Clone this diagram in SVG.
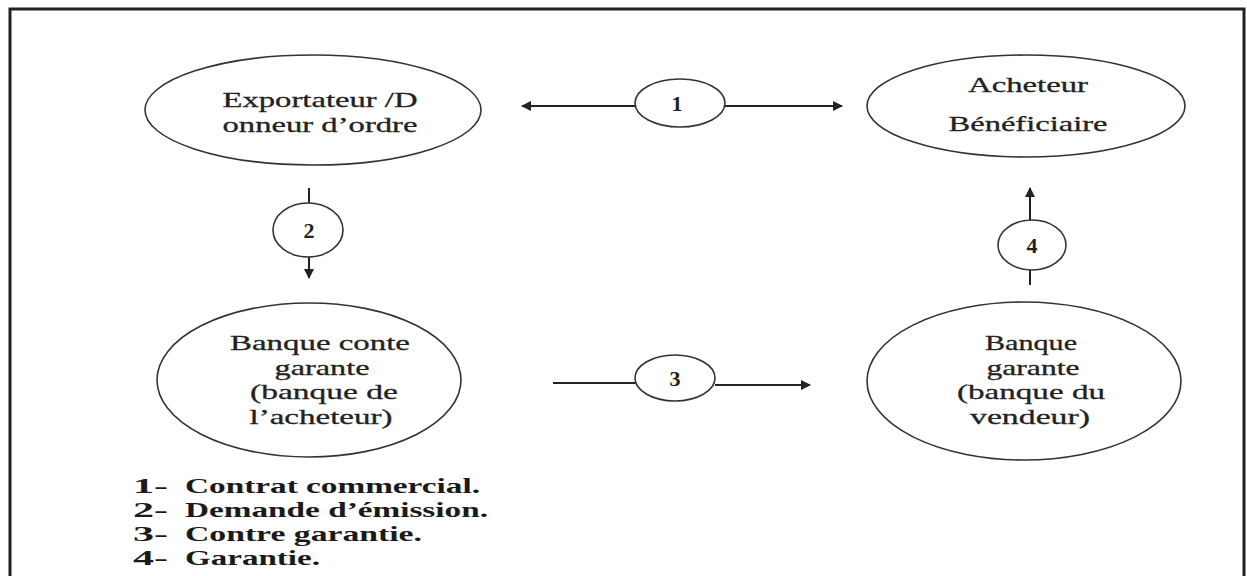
<svg xmlns="http://www.w3.org/2000/svg" width="1247" height="576" viewBox="0 0 1247 576">
<style>
.node{fill:#fff;stroke:#333;stroke-width:1.6}
.t{font-family:"Liberation Serif","Times New Roman",serif;font-size:22px;fill:#222;text-anchor:middle;stroke:#222;stroke-width:0.3}
.n{font-family:"Liberation Serif","Times New Roman",serif;font-size:22px;font-weight:bold;fill:#222;text-anchor:middle}
.lg{font-family:"Liberation Serif","Times New Roman",serif;font-size:21.5px;font-weight:bold;fill:#1a1a1a}
.c{stroke:#222;stroke-width:2;fill:none}
.frame{fill:none;stroke:#222;stroke-width:3}
</style>
<defs>
<marker id="ah" viewBox="0 0 10 10" refX="9" refY="5" markerWidth="5" markerHeight="5" orient="auto-start-reverse" markerUnits="strokeWidth">
<path d="M0,0 L10,5 L0,10 z" fill="#222"/>
</marker>
</defs>
<rect width="1247" height="576" fill="#fff"/>
<path class="frame" d="M10,590 L10,9 L1244,9 L1244,590"/>

<g id="exportateur">
<ellipse class="node" cx="313" cy="110" rx="168" ry="55"/>
<text class="t" x="320" y="107" textLength="195" lengthAdjust="spacingAndGlyphs">Exportateur /D</text>
<text class="t" x="320" y="132" textLength="195" lengthAdjust="spacingAndGlyphs">onneur d’ordre</text>
</g>

<g id="acheteur">
<ellipse class="node" cx="1026" cy="106" rx="159" ry="51"/>
<text class="t" x="1028" y="92" textLength="120" lengthAdjust="spacingAndGlyphs">Acheteur</text>
<text class="t" x="1028" y="131" textLength="159" lengthAdjust="spacingAndGlyphs">Bénéficiaire</text>
</g>

<g id="banque-contre-garante">
<ellipse class="node" cx="309" cy="380" rx="152" ry="77"/>
<text class="t" x="320" y="350" textLength="180" lengthAdjust="spacingAndGlyphs">Banque conte</text>
<text class="t" x="322" y="374.5" textLength="95" lengthAdjust="spacingAndGlyphs">garante</text>
<text class="t" x="324" y="399" textLength="148" lengthAdjust="spacingAndGlyphs">(banque de</text>
<text class="t" x="321" y="423.5" textLength="143" lengthAdjust="spacingAndGlyphs">l’acheteur)</text>
</g>

<g id="banque-garante">
<ellipse class="node" cx="1024" cy="381" rx="157" ry="79"/>
<text class="t" x="1031" y="350" textLength="92" lengthAdjust="spacingAndGlyphs">Banque</text>
<text class="t" x="1033" y="374.5" textLength="93" lengthAdjust="spacingAndGlyphs">garante</text>
<text class="t" x="1031" y="399" textLength="148" lengthAdjust="spacingAndGlyphs">(banque du</text>
<text class="t" x="1030" y="423.5" textLength="120" lengthAdjust="spacingAndGlyphs">vendeur)</text>
</g>

<g id="connectors">
<line class="c" x1="635" y1="106" x2="522" y2="106" marker-end="url(#ah)"/>
<line class="c" x1="725" y1="106" x2="842" y2="106" marker-end="url(#ah)"/>
<line class="c" x1="309" y1="188" x2="309" y2="203"/>
<line class="c" x1="309" y1="257" x2="309" y2="278" marker-end="url(#ah)"/>
<line class="c" x1="553" y1="383" x2="635" y2="383"/>
<line class="c" x1="715" y1="385" x2="810" y2="385" marker-end="url(#ah)"/>
<line class="c" x1="1030" y1="285" x2="1030" y2="270"/>
<line class="c" x1="1030" y1="220" x2="1030" y2="188" marker-end="url(#ah)"/>
<g id="step1"><ellipse class="node" cx="680" cy="103" rx="45" ry="24"/><text class="n" x="677" y="111">1</text></g>
<g id="step2"><ellipse class="node" cx="308" cy="230" rx="35" ry="27"/><text class="n" x="309" y="238">2</text></g>
<g id="step3"><ellipse class="node" cx="675" cy="378" rx="40" ry="23"/><text class="n" x="675" y="386">3</text></g>
<g id="step4"><ellipse class="node" cx="1032" cy="245" rx="34" ry="25"/><text class="n" x="1032" y="253">4</text></g>
</g>

<g id="legend">
<text class="lg" x="133" y="493" textLength="35" lengthAdjust="spacingAndGlyphs">1-</text>
<text class="lg" x="185" y="493" textLength="295" lengthAdjust="spacingAndGlyphs">Contrat commercial.</text>
<text class="lg" x="133" y="517" textLength="35" lengthAdjust="spacingAndGlyphs">2-</text>
<text class="lg" x="185" y="517" textLength="303" lengthAdjust="spacingAndGlyphs">Demande d’émission.</text>
<text class="lg" x="133" y="541" textLength="35" lengthAdjust="spacingAndGlyphs">3-</text>
<text class="lg" x="185" y="541" textLength="237" lengthAdjust="spacingAndGlyphs">Contre garantie.</text>
<text class="lg" x="133" y="565" textLength="35" lengthAdjust="spacingAndGlyphs">4-</text>
<text class="lg" x="185" y="565" textLength="135" lengthAdjust="spacingAndGlyphs">Garantie.</text>
</g>
</svg>
